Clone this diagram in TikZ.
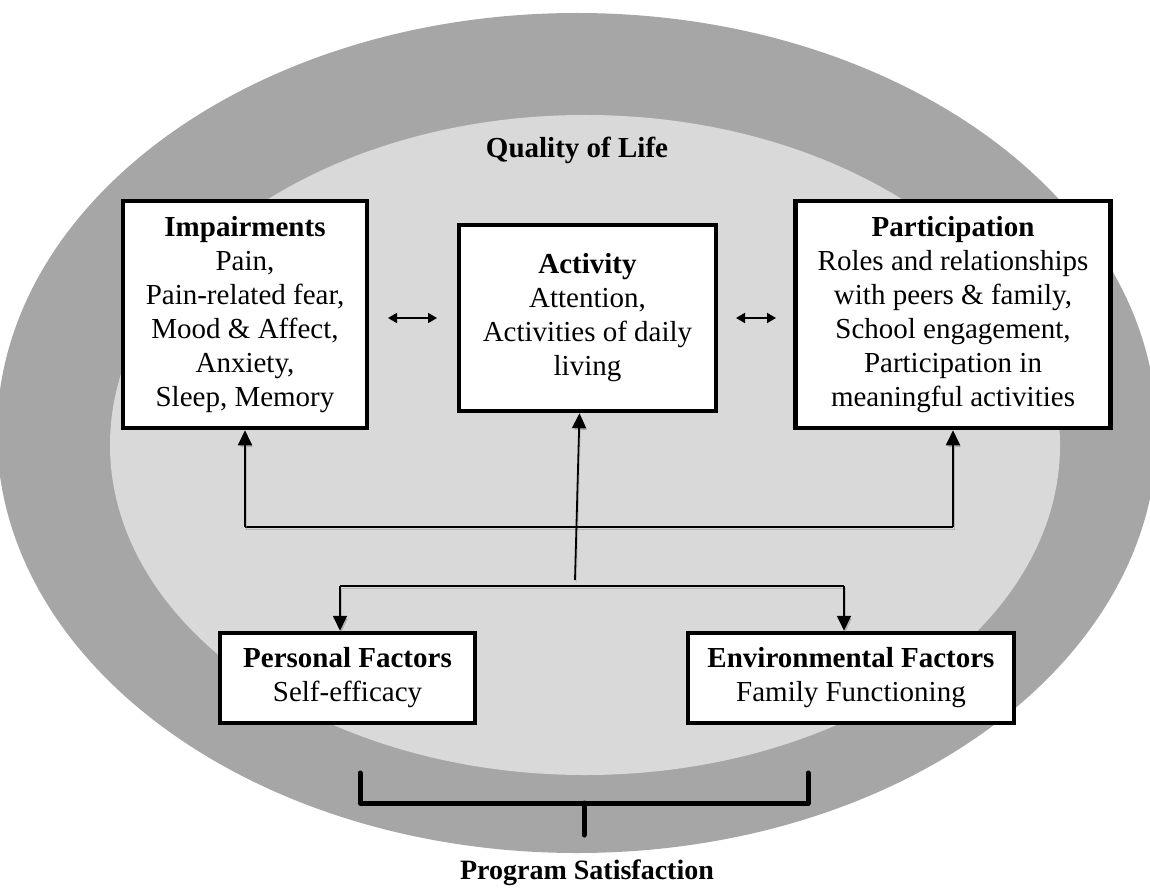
\documentclass[tikz,border=0pt]{standalone}
\usepackage{fontspec}
\setmainfont{Liberation Serif}
\usetikzlibrary{arrows.meta}
\definecolor{bandgrey}{HTML}{A6A6A6}
\definecolor{innergrey}{HTML}{D9D9D9}
\begin{document}
\begin{tikzpicture}[x=1pt,y=-1pt,
  box/.style={draw=black,line width=4.5pt,fill=white,inner sep=0pt,
    font=\fontsize{29}{34}\selectfont,align=center},
  shade/.style={preaction={draw=black!45,opacity=.45,
    transform canvas={shift={(1.5pt,-2.5pt)}}}},
  conn/.style={shade,line width=1.8pt,-{Triangle[length=15pt,width=14pt]}},
  plainconn/.style={shade,line width=1.8pt},
  swap/.style={line width=1.8pt,{Triangle[length=9pt,width=10pt]}-{Triangle[length=9pt,width=10pt]}},
  bracket/.style={shade,line width=5pt,line cap=round,line join=round},
  hd/.style={font=\bfseries\fontsize{29}{34}\selectfont}
]
\useasboundingbox (0,0) rectangle (1150,893);

% background ellipses
\fill[bandgrey] (577,433) ellipse [x radius=580pt, y radius=420pt];
\fill[innergrey] (585,445) ellipse [x radius=475pt, y radius=330pt];

\node[hd] (qol) at (577,150) {Quality of Life};

% the three upper boxes
\node[box,minimum width=244pt,minimum height=227pt] (imp) at (245,314.5)
  {\textbf{Impairments}\\Pain,\\Pain-related fear,\\Mood \& Affect,\\Anxiety,\\Sleep, Memory};
\node[box,minimum width=257pt,minimum height=186pt] (act) at (587.5,318)
  {\textbf{Activity}\\Attention,\\Activities of daily\\living};
\node[box,minimum width=315pt,minimum height=227pt] (par) at (953,314.5)
  {\textbf{Participation}\\Roles and relationships\\with peers \& family,\\School engagement,\\Participation in\\meaningful activities};

% the two factor boxes
\node[box,minimum width=255pt,minimum height=90pt] (pers) at (347.5,678)
  {\textbf{Personal Factors}\\Self-efficacy};
\node[box,minimum width=326pt,minimum height=90pt] (env) at (851,678)
  {\textbf{Environmental Factors}\\Family Functioning};

% two-way links between the upper boxes
\coordinate (sL1) at (388,318);
\coordinate (sL2) at (437,318);
\coordinate (sR1) at (736,318);
\coordinate (sR2) at (776,318);
\draw[swap] (sL1) -- (sL2);
\draw[swap] (sR1) -- (sR2);

% impairments -- participation link
\coordinate (jL) at (imp.south |- 0,527);
\coordinate (jR) at (par.south |- 0,527);
\draw[plainconn] (jL) -- (jR);
\draw[conn] (jL) -- (imp.south);
\draw[conn] (jR) -- (par.south);

% factors branch
\coordinate (bL) at (340,586);
\coordinate (bR) at (844,586);
\coordinate (bM) at (575,580);
\draw[plainconn] (bL) -- (bR);
\draw[conn] (bL) -- (pers.north -| bL);
\draw[conn] (bR) -- (env.north -| bR);
\draw[conn] (bM) -- ([xshift=-8pt]act.south);

% program satisfaction bracket
\coordinate (brL) at (360,773);
\coordinate (brR) at (808,773);
\coordinate (brM) at (584,803);
\coordinate (brT) at (584,835);
\draw[bracket] (brL) |- (brM) -| (brR);
\draw[bracket] (brM) -- (brT);
\node[font=\bfseries\fontsize{28}{32}\selectfont] (ps) at (587,873) {Program Satisfaction};
\end{tikzpicture}
\end{document}
